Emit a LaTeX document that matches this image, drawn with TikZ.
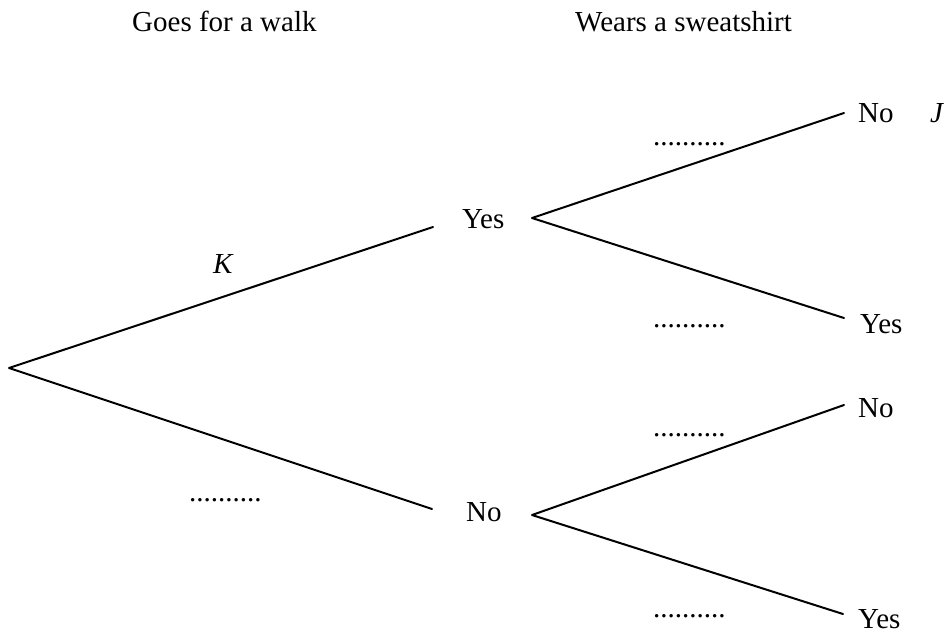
\documentclass[tikz,border=0pt]{standalone}
\usepackage{fontspec}
\setmainfont{Liberation Serif}
\begin{document}
\begin{tikzpicture}[x=1pt,y=-1pt,
  lbl/.style={inner sep=0pt,anchor=base west,font=\fontsize{29}{34}\selectfont},
  branch/.style={line width=2pt,line cap=round,line join=round}]
\useasboundingbox (0,0) rectangle (949,635);
% titles
\node[lbl] (t1) at (132,31) {Goes for a walk};
\node[lbl] (t2) at (575,31) {Wears a sweatshirt};
% root and line ends
\coordinate (root) at (9,368);
\coordinate (yesIn) at (433,227);
\coordinate (yesOut) at (532,218);
\coordinate (noIn) at (432,509);
\coordinate (noOut) at (532,515);
\coordinate (e1) at (844,113);
\coordinate (e2) at (844,318);
\coordinate (e3) at (844,405);
\coordinate (e4) at (843,614);
% labels
\node[lbl] (yes1) at (462,228) {Yes};
\node[lbl] (no1) at (466,521) {No};
\node[lbl] (nr1) at (858,122) {No};
\node[lbl] (jj) at (930,122) {\itshape J};
\node[lbl] (yr1) at (860,333) {Yes};
\node[lbl] (nr2) at (858,417) {No};
\node[lbl] (yr2) at (858,628) {Yes};
\node[lbl] (kk) at (213,273) {\itshape K};
% dotted blanks
\node[lbl] (d0) at (189,501) {..........};
\node[lbl] (d1) at (653,145) {..........};
\node[lbl] (d2) at (653,327) {..........};
\node[lbl] (d3) at (653,436) {..........};
\node[lbl] (d4) at (653,617) {..........};
% branches
\draw[branch] (yesIn) -- (root) -- (noIn);
\draw[branch] (e1) -- (yesOut) -- (e2);
\draw[branch] (e3) -- (noOut) -- (e4);
\end{tikzpicture}
\end{document}
